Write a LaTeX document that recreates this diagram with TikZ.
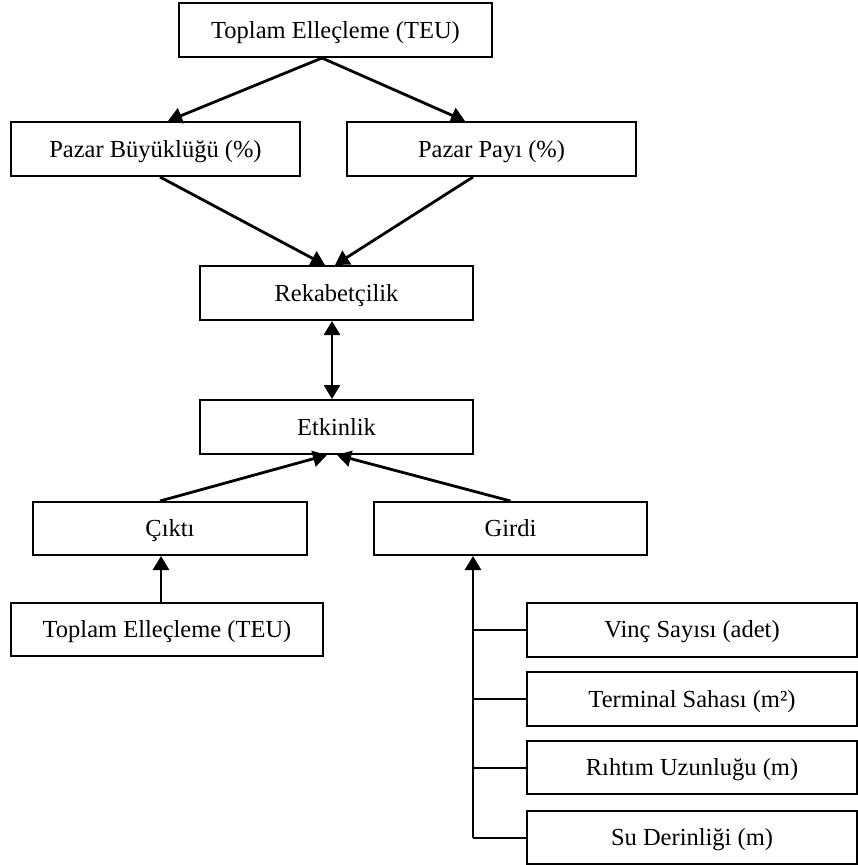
\documentclass[tikz,border=0pt]{standalone}
\usepackage{fontspec}
\setmainfont{Liberation Serif}
\usetikzlibrary{arrows.meta}

\begin{document}
\begin{tikzpicture}[x=1pt,y=-1pt,
    >={Triangle[length=14pt,width=16pt]},
    box/.style={draw,line width=2pt,minimum height=54pt,inner sep=0pt,
        text height=18pt,text depth=2pt,font=\fontsize{24.5}{28}\selectfont},
    arr/.style={line width=2.8pt,->},
    branch/.style={line width=2pt}]
    \useasboundingbox (0,0) rectangle (858,865);

    % Top level
    \node[box,minimum width=313pt] (top) at (335.5,30) {Toplam Elleçleme (TEU)};
    \node[box,minimum width=289pt] (pbuyuk) at (155.5,149) {Pazar Büyüklüğü (\%)};
    \node[box,minimum width=289pt] (ppay) at (491.5,149) {Pazar Payı (\%)};

    % Middle
    \node[box,minimum width=273pt] (rek) at (336.5,293) {Rekabetçilik};
    \node[box,minimum width=273pt] (etk) at (336.5,427) {Etkinlik};

    % Output and input
    \node[box,minimum width=274pt,minimum height=53pt] (cikti) at (170,528.5) {Çıktı};
    \node[box,minimum width=273pt,minimum height=53pt] (girdi) at (510.5,528.5) {Girdi};
    \node[box,minimum width=312pt,minimum height=53pt] (teu) at (167,629.5) {Toplam Elleçleme (TEU)};

    % Input variables
    \node[box,minimum width=330pt] (vinc) at (692,629.5) {Vinç Sayısı (adet)};
    \node[box,minimum width=330pt] (saha) at (692,699) {Terminal Sahası (m²)};
    \node[box,minimum width=330pt,minimum height=53pt] (rihtim) at (692,767.5) {Rıhtım Uzunluğu (m)};
    \node[box,minimum width=330pt,minimum height=53pt] (derin) at (692,837.5) {Su Derinliği (m)};

    % Arrows
    \draw[arr] ([xshift=-13.5pt]top.south) -- ([xshift=12.5pt]pbuyuk.north);
    \draw[arr] ([xshift=-13.5pt]top.south) -- ([xshift=-26.5pt]ppay.north);
    \draw[arr] ([xshift=4.5pt]pbuyuk.south) -- ([xshift=-11.5pt]rek.north);
    \draw[arr] ([xshift=-18.5pt]ppay.south) -- ([xshift=-1.5pt]rek.north);
    \draw[arr,<->] ([xshift=-4.5pt]rek.south) -- ([xshift=-4.5pt]etk.north);
    \draw[arr] ([xshift=-10pt]cikti.north) -- ([xshift=-9.5pt]etk.south);
    \draw[arr] (girdi.north) -- ([xshift=0.5pt]etk.south);
    \draw[arr] ([xshift=-6pt]teu.north) -- ([xshift=-6pt]teu.north |- cikti.south);

    % Girdi tree
    \coordinate (trunk) at ([xshift=-37.5pt]girdi.south);
    \draw[arr] (trunk |- derin.west) -- (trunk);
    \foreach \n in {vinc,saha,rihtim,derin}
        \draw[branch] (trunk |- \n.west) -- (\n.west);
\end{tikzpicture}
\end{document}
